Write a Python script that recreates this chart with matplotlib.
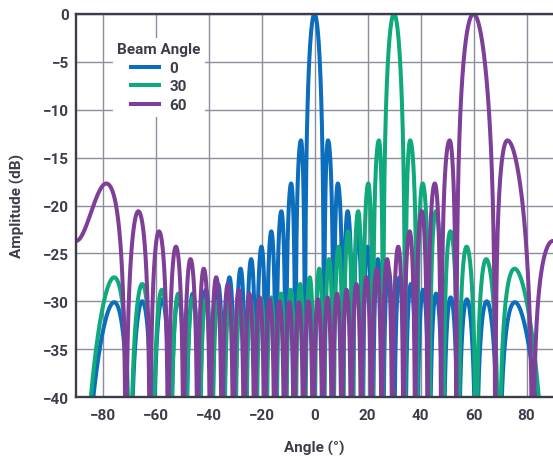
import numpy as np
import matplotlib
matplotlib.use("Agg")
import matplotlib.pyplot as plt

# Beam pattern of the array, read off the chart lobe by lobe:
# null angles (deg), lobe peak angles (deg) and lobe peak levels (dB).
B0_NULLS = [-69.6, -61.0, -54.3, -48.6, -43.4, -38.7, -34.2, -30.0, -25.9, -22.0,
            -18.2, -14.5, -10.8, -7.2, -3.6, 3.6, 7.2, 10.8, 14.5, 18.2,
            22.0, 25.9, 30.0, 34.2, 38.7, 43.4, 48.6, 54.3, 61.0, 69.6]
B0_PEAKS = [-75.6, -65.0, -57.5, -51.4, -45.9, -41.0, -36.4, -32.1, -27.9, -23.9,
            -20.0, -16.3, -12.5, -8.8, -5.1, 0.0, 5.1, 8.8, 12.5, 16.3,
            20.0, 23.9, 27.9, 32.1, 36.4, 41.0, 45.9, 51.4, 57.5, 65.0, 75.6]
B0_LEVELS = [-30.1, -30.0, -29.8, -29.6, -29.2, -28.8, -28.2, -27.5, -26.6, -25.6,
             -24.3, -22.7, -20.6, -17.7, -13.2, 0.0, -13.2, -17.7, -20.6, -22.7,
             -24.3, -25.6, -26.6, -27.5, -28.2, -28.8, -29.2, -29.6, -29.8, -30.0, -30.1]

B30_NULLS = [-69.6, -61.0, -54.3, -48.6, -43.4, -38.7, -34.2, -30.0, -25.9, -22.0,
             -18.2, -14.5, -10.8, -7.2, -3.6, 0.0, 3.6, 7.2, 10.8, 14.5,
             18.2, 22.0, 25.9, 34.2, 38.7, 43.4, 48.6, 54.3, 61.0, 69.6]
B30_PEAKS = [-75.6, -65.0, -57.6, -51.4, -45.9, -41.0, -36.4, -32.1, -28.0, -24.0,
             -20.1, -16.4, -12.6, -9.0, -5.4, -1.8, 1.8, 5.5, 9.1, 12.7,
             16.5, 20.3, 24.3, 30.0, 36.1, 40.8, 45.8, 51.3, 57.4, 64.8, 75.5]
B30_LEVELS = [-27.5, -28.2, -28.8, -29.2, -29.6, -29.8, -30.0, -30.1, -30.1, -30.0,
              -29.8, -29.6, -29.2, -28.8, -28.2, -27.5, -26.6, -25.6, -24.3, -22.7,
              -20.6, -17.7, -13.2, 0.0, -13.2, -17.7, -20.6, -22.7, -24.3, -25.6, -26.6]

B60_NULLS = [-71.2, -62.1, -55.2, -49.4, -44.1, -39.3, -34.9, -30.6, -26.5, -22.6,
             -18.8, -15.0, -11.3, -7.7, -4.1, -0.5, 3.1, 6.7, 10.3, 13.9,
             17.7, 21.5, 25.4, 29.4, 33.6, 38.0, 42.7, 47.8, 53.5, 68.2, 82.3]
# last lobe peaks beyond +90 deg, only its rising side is on the chart
B60_PEAKS = [-78.6, -66.5, -58.7, -52.3, -46.8, -41.8, -37.1, -32.7, -28.6, -24.6,
             -20.7, -16.9, -13.2, -9.5, -5.9, -2.3, 1.3, 4.9, 8.5, 12.1,
             15.8, 19.6, 23.5, 27.4, 31.6, 35.9, 40.5, 45.4, 51.0, 60.0, 72.8, np.nan]
B60_LEVELS = [-17.7, -20.6, -22.7, -24.3, -25.6, -26.6, -27.5, -28.2, -28.8, -29.2,
              -29.6, -29.8, -30.0, -30.1, -30.1, -30.0, -29.8, -29.6, -29.2, -28.8,
              -28.2, -27.5, -26.6, -25.6, -24.3, -22.7, -20.6, -17.7, -13.2, 0.0, -13.2, -17.7]
# level at the -90 / +90 edges (None = null sits on the edge)
B60_EDGES = (-23.7, -23.7)

BEAMS = ["0", "30", "60"]
COLORS = ["#0b6dbb", "#0fa97d", "#7e3f98"]
TEXT = "#3c3d4b"


def edge_frac(edge_db, level):
    if edge_db is None:
        return 0.0
    return 2 / np.pi * np.arcsin(min(1.0, 10 ** ((edge_db - level) / 20)))


def segment(t0, s0, t1, s1, level):
    t = np.linspace(t0, t1, 150)
    w = np.sin(np.radians(t))
    w0, w1 = np.sin(np.radians(t0)), np.sin(np.radians(t1))
    s = s0 + (s1 - s0) * (w - w0) / (w1 - w0)
    if level == 0.0:
        amp = np.abs(np.sinc(1 - s))
    else:
        amp = np.sin(np.pi / 2 * np.clip(s, 0, 1))
    return t, level + 20 * np.log10(np.maximum(amp, 1e-6))


def pattern(nulls, peaks, levels, edges=(None, None)):
    bounds = [-90.0] + list(nulls) + [90.0]
    xs, ys = [], []
    for i, (pk, lv) in enumerate(zip(peaks, levels)):
        tl, tr = bounds[i], bounds[i + 1]
        sl = edge_frac(edges[0], lv) if i == 0 else 0.0
        sr = edge_frac(edges[1], lv) if i == len(peaks) - 1 else 0.0
        if np.isnan(pk):
            parts = [segment(tl, sl, tr, sr, lv)]
        else:
            parts = [segment(tl, sl, pk, 1.0, lv), segment(pk, 1.0, tr, sr, lv)]
        for t, d in parts:
            xs.append(t)
            ys.append(d)
    return np.concatenate(xs), np.concatenate(ys)


plt.rcParams["font.family"] = ["Roboto", "DejaVu Sans"]
plt.rcParams["font.weight"] = "bold"

fig = plt.figure(figsize=(5.53, 4.60), dpi=100)
ax = fig.add_axes([76 / 553, 62 / 460, 477 / 553, 383 / 460])

series = [
    pattern(B0_NULLS, B0_PEAKS, B0_LEVELS),
    pattern(B30_NULLS, B30_PEAKS, B30_LEVELS),
    pattern(B60_NULLS, B60_PEAKS, B60_LEVELS, B60_EDGES),
]
for (x, y), name, c in zip(series, BEAMS, COLORS):
    ax.plot(x, y, color=c, lw=2.9, label=name, solid_joinstyle="round")

ax.set_xlim(-90, 90)
ax.set_ylim(-40, 0)
ax.set_xticks(range(-80, 81, 20))
ax.set_yticks(range(-40, 1, 5))
ax.tick_params(length=0, labelsize=11, colors=TEXT)
ax.tick_params(axis="x", pad=8)
ax.tick_params(axis="y", pad=5)
ax.grid(True, color="#8c8e9b", lw=1.0)
ax.set_axisbelow(True)
for side in ["top", "left", "bottom"]:
    ax.spines[side].set_color(TEXT)
    ax.spines[side].set_linewidth(1.7)
ax.spines["right"].set_visible(False)

leg = ax.legend(title="Beam Angle", loc="upper left", bbox_to_anchor=(0.061, 0.958),
                frameon=True, fancybox=False, framealpha=1, edgecolor="none",
                facecolor="white", borderpad=0.3, handlelength=1.8, handletextpad=0.7,
                labelspacing=0.3, prop={"size": 11, "weight": "bold"},
                title_fontproperties={"size": 11, "weight": "bold"})
for t in leg.get_texts():
    t.set_color(TEXT)
leg.get_title().set_color(TEXT)

fig.text(314 / 553, 1 - 448 / 460, "Angle (°)", ha="center", va="center",
         fontsize=11, color=TEXT)
fig.text(17 / 553, 1 - 206 / 460, "Amplitude (dB)", ha="center", va="center",
         rotation=90, fontsize=11, color=TEXT)

fig.savefig("out.png", dpi=100)
